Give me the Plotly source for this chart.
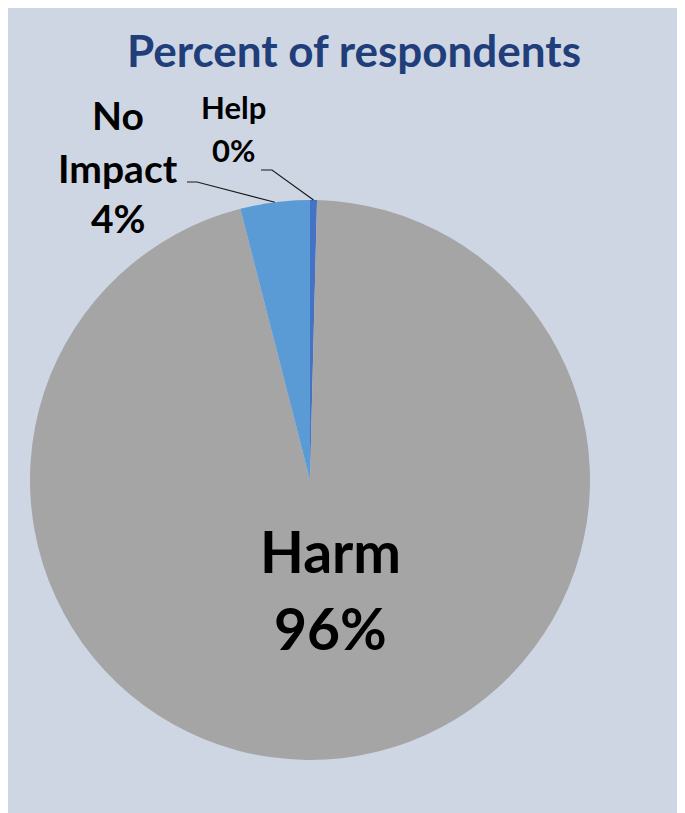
import math
import plotly.graph_objects as go

# ---- data ----
labels = ["Help", "Harm", "No Impact"]
values = [0.4, 95.6, 4.0]
colors = ["#4472C4", "#A5A5A5", "#5B9BD5"]
title_text = "Percent of respondents"

# ---- layout geometry (page pixels; the page body has an 8px margin) ----
OFF = 8
W, H = 685 - OFF, 813 - OFF
CX, CY, R = 310, 480, 280
FONT = "Lato"


def px2x(px):
    return (px - OFF) / W


def py2y(py):
    return 1 - (py - OFF) / H


total = sum(values)
pcts = [f"{round(v / total * 100):.0f}%" for v in values]

fig = go.Figure(go.Pie(
    labels=labels, values=values, sort=False, direction="clockwise", rotation=0,
    marker=dict(colors=colors, line=dict(width=0)),
    textinfo="none", hoverinfo="label+percent", showlegend=False,
    domain=dict(x=[px2x(CX - R), px2x(CX + R)], y=[py2y(CY + R), py2y(CY - R)]),
))

# slice mid-angle points on the rim (for leader lines)
cum = 0
mids = []
for v in values:
    a = (cum + v / 2) / total * 2 * math.pi
    mids.append((CX + R * math.sin(a), CY - R * math.cos(a)))
    cum += v

annotations = []


def add_lines(lines, cx, ys, size):
    for t, y in zip(lines, ys):
        annotations.append(dict(
            text=f"<b>{t}</b>", x=px2x(cx), y=py2y(y), xref="paper", yref="paper",
            xanchor="center", yanchor="middle", showarrow=False,
            font=dict(family=FONT, size=size, color="#000000")))


# Harm (inside)
add_lines([labels[1], pcts[1]], 330, [551, 628], 57)
# No Impact
add_lines(["No", "Impact", pcts[2]], 118, [115, 168, 218], 39)
# Help
add_lines([labels[0], pcts[0]], 233, [107, 150], 31)

shapes = []


def leader(p0, p1, end):
    path = (f"M {px2x(p0[0])} {py2y(p0[1])} L {px2x(p1[0])} {py2y(p1[1])} "
            f"L {px2x(end[0])} {py2y(end[1])}")
    shapes.append(dict(type="path", xref="paper", yref="paper", path=path,
                       line=dict(color="#1a1a1a", width=1.2)))


leader((187, 182), (197, 182), mids[2])
leader((261, 170), (272, 170), mids[0])

fig.update_layout(
    width=W, height=H,
    margin=dict(l=0, r=0, t=0, b=0),
    paper_bgcolor="#CFD6E3",
    title=dict(text=f"<b>{title_text}</b>", x=(354 - OFF) / W, xanchor="center",
               y=1 - (52 - OFF) / H, yanchor="middle", yref="container",
               font=dict(family=FONT, size=44, color="#1F3E7A")),
    annotations=annotations, shapes=shapes,
)

fig.write_html("out.html")
